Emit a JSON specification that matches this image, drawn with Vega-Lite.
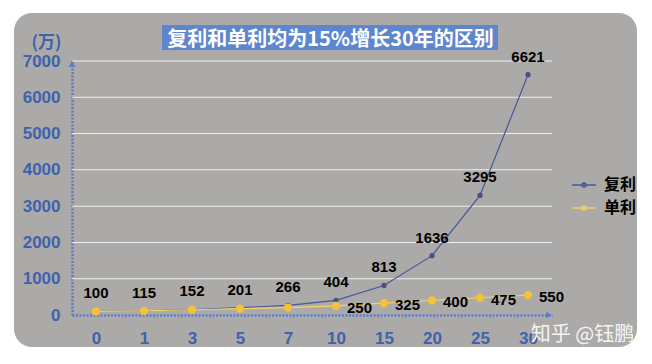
{
  "$schema": "https://vega.github.io/schema/vega-lite/v6.json",
  "width": 623,
  "height": 334,
  "autosize": {"type": "none"},
  "padding": {"left": 14, "top": 13, "right": 15, "bottom": 17},
  "background": "#ffffff",
  "config": {
    "view": {"fill": "#acaaa8", "stroke": null, "cornerRadius": 18},
    "font": "Liberation Sans"
  },
  "title": {
    "text": "复利和单利均为15%增长30年的区别",
    "color": "#ffffff",
    "fontSize": 20,
    "fontWeight": "bold",
    "font": "Noto Sans CJK SC",
    "frame": "group",
    "anchor": "middle",
    "baseline": "middle",
    "offset": -47,
    "dx": 5
  },
  "data": {
    "values": [
      {"year": 0, "series": "复利", "value": 100},
      {"year": 1, "series": "复利", "value": 115},
      {"year": 3, "series": "复利", "value": 152},
      {"year": 5, "series": "复利", "value": 201},
      {"year": 7, "series": "复利", "value": 266},
      {"year": 10, "series": "复利", "value": 404},
      {"year": 15, "series": "复利", "value": 813},
      {"year": 20, "series": "复利", "value": 1636},
      {"year": 25, "series": "复利", "value": 3295},
      {"year": 30, "series": "复利", "value": 6621},
      {"year": 0, "series": "单利", "value": 100},
      {"year": 1, "series": "单利", "value": 115},
      {"year": 3, "series": "单利", "value": 145},
      {"year": 5, "series": "单利", "value": 175},
      {"year": 7, "series": "单利", "value": 205},
      {"year": 10, "series": "单利", "value": 250},
      {"year": 15, "series": "单利", "value": 325},
      {"year": 20, "series": "单利", "value": 400},
      {"year": 25, "series": "单利", "value": 475},
      {"year": 30, "series": "单利", "value": 550}
    ]
  },
  "encoding": {
    "x": {
      "field": "year",
      "type": "ordinal",
      "scale": {"type": "point", "range": [58, 538], "padding": 0.5},
      "axis": {
        "orient": "bottom",
        "offset": -32,
        "labelAngle": 0,
        "labelFont": "Liberation Sans",
        "labelFontSize": 17,
        "labelFontWeight": "bold",
        "labelColor": "#3f62ad",
        "labelPadding": 15,
        "labelBaseline": "top",
        "ticks": false,
        "tickSize": 0,
        "domainColor": "#5b7ccc",
        "domainWidth": 2.5,
        "domainDash": [2, 1.5],
        "grid": false,
        "title": "知乎 @钰鹏",
        "titleColor": "#ffffff",
        "titleOpacity": 0.9,
        "titleFont": "Noto Sans CJK SC",
        "titleFontSize": 20,
        "titleFontWeight": "normal",
        "titleX": 568,
        "titleY": 19,
        "titleAlign": "center",
        "titleBaseline": "middle"
      }
    },
    "y": {
      "field": "value",
      "type": "quantitative",
      "scale": {"domain": [0, 7000], "range": [302, 48], "nice": false},
      "axis": {
        "orient": "left",
        "offset": -58,
        "values": [0, 1000, 2000, 3000, 4000, 5000, 6000, 7000],
        "format": "d",
        "labelFont": "Liberation Sans",
        "labelFontSize": 17,
        "labelFontWeight": "bold",
        "labelColor": "#3f62ad",
        "labelPadding": 12,
        "ticks": false,
        "tickSize": 0,
        "domainColor": "#5b7ccc",
        "domainWidth": 2.5,
        "domainDash": [2, 1.5],
        "grid": false,
        "title": "(万)",
        "titleAngle": 0,
        "titleFont": "Noto Sans CJK SC",
        "titleFontSize": 17,
        "titleFontWeight": "bold",
        "titleColor": "#3f62ad",
        "titleX": -26,
        "titleY": 29,
        "titleAlign": "center",
        "titleBaseline": "middle"
      }
    }
  },
  "layer": [
    {
      "transform": [{"filter": "datum.series === '复利' && datum.year === 10"}],
      "mark": {"type": "tick", "orient": "horizontal", "size": 336, "thickness": 25, "color": "#5d86cf", "opacity": 1, "xOffset": -6},
      "encoding": {"y": {"datum": 7648}}
    },
    {"transform": [{"filter": "datum.series === '复利'"}], "mark": {"type": "tick", "orient": "horizontal", "size": 48, "thickness": 1, "color": "#eeeeee", "opacity": 1}, "encoding": {"y": {"datum": 1000}}},
    {"transform": [{"filter": "datum.series === '复利'"}], "mark": {"type": "tick", "orient": "horizontal", "size": 48, "thickness": 1, "color": "#eeeeee", "opacity": 1}, "encoding": {"y": {"datum": 2000}}},
    {"transform": [{"filter": "datum.series === '复利'"}], "mark": {"type": "tick", "orient": "horizontal", "size": 48, "thickness": 1, "color": "#eeeeee", "opacity": 1}, "encoding": {"y": {"datum": 3000}}},
    {"transform": [{"filter": "datum.series === '复利'"}], "mark": {"type": "tick", "orient": "horizontal", "size": 48, "thickness": 1, "color": "#eeeeee", "opacity": 1}, "encoding": {"y": {"datum": 4000}}},
    {"transform": [{"filter": "datum.series === '复利'"}], "mark": {"type": "tick", "orient": "horizontal", "size": 48, "thickness": 1, "color": "#eeeeee", "opacity": 1}, "encoding": {"y": {"datum": 5000}}},
    {"transform": [{"filter": "datum.series === '复利'"}], "mark": {"type": "tick", "orient": "horizontal", "size": 48, "thickness": 1, "color": "#eeeeee", "opacity": 1}, "encoding": {"y": {"datum": 6000}}},
    {"transform": [{"filter": "datum.series === '复利'"}], "mark": {"type": "tick", "orient": "horizontal", "size": 48, "thickness": 1, "color": "#eeeeee", "opacity": 1}, "encoding": {"y": {"datum": 7000}}},
    {
      "transform": [{"filter": "datum.series === '复利' && datum.year === 30"}],
      "mark": {"type": "point", "shape": "triangle-right", "filled": true, "opacity": 1, "color": "#5b7ccc", "size": 45, "xOffset": 21},
      "encoding": {"y": {"datum": 0}}
    },
    {
      "transform": [{"filter": "datum.series === '复利' && datum.year === 0"}],
      "mark": {"type": "point", "shape": "triangle-up", "filled": true, "opacity": 1, "color": "#5b7ccc", "size": 45, "xOffset": -24, "yOffset": 3},
      "encoding": {"y": {"datum": 7000}}
    },
    {
      "mark": {"type": "line", "strokeWidth": 1.2},
      "encoding": {
        "stroke": {
          "field": "series",
          "type": "nominal",
          "scale": {"domain": ["复利", "单利"], "range": ["#46579b", "#f2d468"]},
          "legend": {
            "orient": "none",
            "legendX": 557,
            "legendY": 159,
            "title": null,
            "padding": 0,
            "symbolType": "M-1,0H1M-0.16,0A0.16,0.16 0 1,1 0.16,0A0.16,0.16 0 1,1 -0.16,0",
            "symbolSize": 576,
            "symbolStrokeWidth": 1.5,
            "labelFont": "Noto Sans CJK SC",
            "labelFontSize": 16,
            "labelFontWeight": "bold",
            "labelColor": "#000000",
            "labelOffset": 7,
            "rowPadding": 2
          }
        }
      }
    },
    {
      "transform": [{"filter": "datum.series === '复利'"}],
      "mark": {"type": "point", "filled": true, "opacity": 1, "color": "#4b5080", "size": 28}
    },
    {
      "transform": [{"filter": "datum.series === '单利'"}],
      "mark": {"type": "point", "filled": true, "opacity": 1, "color": "#f5c139", "size": 70}
    },
    {
      "transform": [{"filter": "datum.series === '复利'"}],
      "mark": {"type": "text", "dy": -18, "font": "Liberation Sans", "fontSize": 15, "fontWeight": "bold", "color": "#000000"},
      "encoding": {"text": {"field": "value", "type": "quantitative"}}
    },
    {
      "transform": [{"filter": "datum.series === '单利' && datum.year >= 10"}],
      "mark": {"type": "text", "align": "left", "dx": 11, "dy": 2, "font": "Liberation Sans", "fontSize": 15, "fontWeight": "bold", "color": "#000000"},
      "encoding": {"text": {"field": "value", "type": "quantitative"}}
    }
  ]
}
